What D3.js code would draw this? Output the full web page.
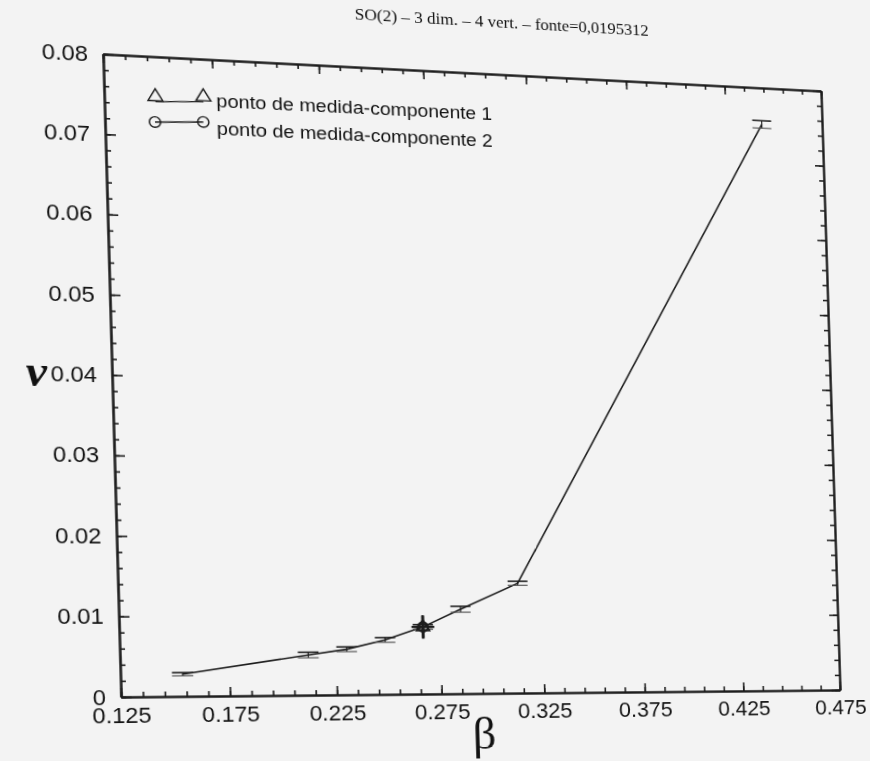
<!DOCTYPE html>
<meta charset="utf-8">
<style>
  body { margin: 0; background: #f3f3f3; overflow: hidden; }
  #my_chart { position: absolute; left: 0; top: 0; width: 870px; height: 761px; }
  #my_chart svg { position: absolute; left: 0; top: 0; overflow: visible; transform-origin: 0 0; }
</style>
<script src="https://d3js.org/d3.v7.min.js"></script>

<div id="my_chart"></div>

<script>
  // curve: beta, nu and the half height of each error bar
  var beta = [0.1534, 0.2120, 0.2302, 0.2486, 0.2669, 0.2853, 0.3135, 0.4436];
  var nu = [0.00276, 0.00507, 0.00577, 0.00693, 0.00857, 0.01082, 0.01416, 0.07513];
  var nuErr = [0.0002, 0.00035, 0.0003, 0.0003, 0.0003, 0.00038, 0.00026, 0.0005];

  // the measuring point, component 1 (triangle) and component 2 (circle)
  var pointBeta = [0.2669, 0.2669];
  var pointNu = [0.00857, 0.00857];
  var pointNuErr = [0.0015, 0.0014];
  var pointBetaErr = [0.0055, 0.0045];

  var xTickValues = [0.125, 0.175, 0.225, 0.275, 0.325, 0.375, 0.425, 0.475];
  var xTickLabels = ["0.125", "0.175", "0.225", "0.275", "0.325", "0.375", "0.425", "0.475"];
  var yTickValues = [0, 0.01, 0.02, 0.03, 0.04, 0.05, 0.06, 0.07, 0.08];
  var yTickLabels = ["0", "0.01", "0.02", "0.03", "0.04", "0.05", "0.06", "0.07", "0.08"];

  var legendLabels = ["ponto de medida-componente 1", "ponto de medida-componente 2"];
  var title = "SO(2) \u2013 3 dim. \u2013 4 vert. \u2013 fonte=0,0195312";

  // plot frame before the scan distortion
  var margin = {left: 103, top: 54},
    width = 718,
    height = 643;

  // where the frame corners ended up on the scanned page (TL, TR, BR, BL)
  var corners = [[103, 54], [821, 91], [840, 690], [121, 697]];

  // homography unit square -> quad
  function quadMatrix(c) {
    var x0 = c[0][0], y0 = c[0][1], x1 = c[1][0], y1 = c[1][1],
      x2 = c[2][0], y2 = c[2][1], x3 = c[3][0], y3 = c[3][1];
    var sx = x0 - x1 + x2 - x3, sy = y0 - y1 + y2 - y3;
    var dx1 = x1 - x2, dx2 = x3 - x2, dy1 = y1 - y2, dy2 = y3 - y2;
    var det = dx1 * dy2 - dx2 * dy1;
    var g = (sx * dy2 - dx2 * sy) / det;
    var h = (dx1 * sy - sx * dy1) / det;
    return [[x1 - x0 + g * x1, x3 - x0 + h * x3, x0],
      [y1 - y0 + g * y1, y3 - y0 + h * y3, y0],
      [g, h, 1]];
  }

  function mul(A, B) {
    var C = [[0, 0, 0], [0, 0, 0], [0, 0, 0]];
    for (var i = 0; i < 3; i++)
      for (var j = 0; j < 3; j++)
        for (var k = 0; k < 3; k++) C[i][j] += A[i][k] * B[k][j];
    return C;
  }

  function inverse(m) {
    var a = m[0][0], b = m[0][1], c = m[0][2],
      d = m[1][0], e = m[1][1], f = m[1][2],
      g = m[2][0], h = m[2][1], k = m[2][2];
    var A = e * k - f * h, B = -(d * k - f * g), C = d * h - e * g;
    var det = a * A + b * B + c * C;
    return [[A / det, -(b * k - c * h) / det, (b * f - c * e) / det],
      [B / det, (a * k - c * g) / det, -(a * f - c * d) / det],
      [C / det, -(a * h - b * g) / det, (a * e - b * d) / det]];
  }

  var norm = [[1 / width, 0, -margin.left / width], [0, 1 / height, -margin.top / height], [0, 0, 1]];
  var M = mul(quadMatrix(corners), norm);
  var Minv = inverse(M);

  // page position -> drawing position
  function unwarp(p) {
    var x = Minv[0][0] * p[0] + Minv[0][1] * p[1] + Minv[0][2],
      y = Minv[1][0] * p[0] + Minv[1][1] * p[1] + Minv[1][2],
      w = Minv[2][0] * p[0] + Minv[2][1] * p[1] + Minv[2][2];
    return [x / w, y / w];
  }

  var svg = d3.select("#my_chart")
    .append("svg")
    .attr("width", 870)
    .attr("height", 761)
    .style("transform", "matrix3d(" + [M[0][0], M[1][0], 0, M[2][0], M[0][1], M[1][1], 0, M[2][1],
      0, 0, 1, 0, M[0][2], M[1][2], 0, M[2][2]].join(",") + ")");

  var g = svg.append("g")
    .attr("transform", "translate(" + margin.left + "," + margin.top + ")");

  var x = d3.scaleLinear().domain([0.125, 0.475]).range([0, width]);
  var y = d3.scaleLinear().domain([0, 0.08]).range([height, 0]);

  var xMinor = d3.range(36).map(function (i) { return 0.125 + i * 0.01; });
  var yMinor = d3.range(41).map(function (i) { return i * 0.002; });

  var ink = "#1c1c1c";

  function style(sel) {
    sel.selectAll("line").attr("stroke", ink).attr("stroke-width", 1.6);
    sel.select(".domain").attr("stroke", ink).attr("stroke-width", 2);
    sel.selectAll("text").attr("fill", "#111")
      .style("font-family", "'Liberation Sans', Arial, sans-serif")
      .style("font-size", "22px");
  }

  // minor ticks, all four sides, pointing inwards
  g.append("g").attr("transform", "translate(0," + height + ")")
    .call(d3.axisBottom(x).tickValues(xMinor).tickSize(-5).tickSizeOuter(0).tickFormat(""))
    .call(style);
  g.append("g")
    .call(d3.axisTop(x).tickValues(xMinor).tickSize(-5).tickSizeOuter(0).tickFormat(""))
    .call(style);
  g.append("g")
    .call(d3.axisLeft(y).tickValues(yMinor).tickSize(-5).tickSizeOuter(0).tickFormat(""))
    .call(style);
  g.append("g").attr("transform", "translate(" + width + ",0)")
    .call(d3.axisRight(y).tickValues(yMinor).tickSize(-5).tickSizeOuter(0).tickFormat(""))
    .call(style);

  // major ticks with labels
  g.append("g").attr("transform", "translate(0," + height + ")")
    .call(d3.axisBottom(x).tickValues(xTickValues).tickSize(-9).tickSizeOuter(0).tickPadding(10)
      .tickFormat(function (d, i) { return xTickLabels[i]; }))
    .call(style);
  g.append("g")
    .call(d3.axisLeft(y).tickValues(yTickValues).tickSize(-10).tickSizeOuter(0).tickPadding(14)
      .tickFormat(function (d, i) { return yTickLabels[i]; }))
    .call(style);
  g.append("g")
    .call(d3.axisTop(x).tickValues(xTickValues).tickSize(-9).tickSizeOuter(0).tickFormat(""))
    .call(style);
  g.append("g").attr("transform", "translate(" + width + ",0)")
    .call(d3.axisRight(y).tickValues(yTickValues).tickSize(-9).tickSizeOuter(0).tickFormat(""))
    .call(style);

  var pts = beta.map(function (b, i) { return {b: b, v: nu[i], e: nuErr[i]}; });

  // curve
  g.append("path")
    .datum(pts)
    .attr("fill", "none")
    .attr("stroke", ink)
    .attr("stroke-width", 1.6)
    .attr("d", d3.line().x(function (d) { return x(d.b); }).y(function (d) { return y(d.v); }));

  // error bars
  var bars = g.selectAll(".err").data(pts).enter().append("g").attr("class", "err");
  bars.append("line")
    .attr("x1", function (d) { return x(d.b); }).attr("x2", function (d) { return x(d.b); })
    .attr("y1", function (d) { return y(d.v - d.e); }).attr("y2", function (d) { return y(d.v + d.e); })
    .attr("stroke", ink).attr("stroke-width", 1.2);
  bars.append("line")
    .attr("x1", function (d) { return x(d.b) - 10; }).attr("x2", function (d) { return x(d.b) + 10; })
    .attr("y1", function (d) { return y(d.v + d.e); }).attr("y2", function (d) { return y(d.v + d.e); })
    .attr("stroke", ink).attr("stroke-width", 1.6);
  bars.append("line")
    .attr("x1", function (d) { return x(d.b) - 10; }).attr("x2", function (d) { return x(d.b) + 10; })
    .attr("y1", function (d) { return y(d.v - d.e); }).attr("y2", function (d) { return y(d.v - d.e); })
    .attr("stroke", "#555").attr("stroke-width", 1.2);

  // measuring point: both components with beta and nu errors
  var meas = pointBeta.map(function (b, i) {
    return {b: b, v: pointNu[i], e: pointNuErr[i], eb: pointBetaErr[i], k: i};
  });
  var mg = g.selectAll(".meas").data(meas).enter().append("g").attr("class", "meas");
  mg.append("line")
    .attr("x1", function (d) { return x(d.b); }).attr("x2", function (d) { return x(d.b); })
    .attr("y1", function (d) { return y(d.v - d.e); }).attr("y2", function (d) { return y(d.v + d.e); })
    .attr("stroke", ink).attr("stroke-width", 2.6);
  mg.append("line")
    .attr("x1", function (d) { return x(d.b - d.eb); }).attr("x2", function (d) { return x(d.b + d.eb); })
    .attr("y1", function (d) { return y(d.v); }).attr("y2", function (d) { return y(d.v); })
    .attr("stroke", ink).attr("stroke-width", 2.2);
  mg.append("path")
    .attr("transform", function (d) { return "translate(" + x(d.b) + "," + y(d.v) + ")"; })
    .attr("d", function (d) {
      return d3.symbol().type(d.k === 0 ? d3.symbolTriangle : d3.symbolCircle).size(d.k === 0 ? 70 : 80)();
    })
    .attr("fill", "none").attr("stroke", ink).attr("stroke-width", 1.8);

  // texts are placed where they sit on the page, then pulled back into the drawing
  var font = "'Liberation Sans', Arial, sans-serif";
  var serif = "'Liberation Serif', 'Times New Roman', serif";

  var t = unwarp([504, 28]);
  svg.append("text").attr("x", t[0]).attr("y", t[1])
    .attr("text-anchor", "middle")
    .style("font-family", serif).style("font-size", "17px").attr("fill", "#111")
    .text(title);

  t = unwarp([37, 386]);
  svg.append("text").attr("x", t[0]).attr("y", t[1])
    .attr("text-anchor", "middle")
    .style("font-family", serif).style("font-size", "44px")
    .style("font-weight", "bold").style("font-style", "italic").attr("fill", "#111")
    .text("\u03bd");

  t = unwarp([485, 749]);
  svg.append("text").attr("x", t[0]).attr("y", t[1])
    .attr("text-anchor", "middle")
    .style("font-family", serif).style("font-size", "46px").attr("fill", "#111")
    .text("\u03b2");

  // legend
  var legendRows = [
    {a: [155.5, 101.7], b: [203.5, 101.7], t: [216.5, 106.7], sym: d3.symbolTriangle, dy: -5},
    {a: [155, 122], b: [203.3, 122], t: [217, 134.5], sym: d3.symbolCircle, dy: 0}
  ];
  legendRows.forEach(function (r, i) {
    var a = unwarp(r.a), b = unwarp(r.b), p = unwarp(r.t);
    svg.append("line")
      .attr("x1", a[0]).attr("y1", a[1]).attr("x2", b[0]).attr("y2", b[1])
      .attr("stroke", ink).attr("stroke-width", 1.4);
    [a, b].forEach(function (q) {
      svg.append("path")
        .attr("transform", "translate(" + q[0] + "," + (q[1] + r.dy) + ")")
        .attr("d", d3.symbol().type(r.sym).size(i === 0 ? 85 : 88)())
        .attr("fill", "none").attr("stroke", ink).attr("stroke-width", 1.4);
    });
    svg.append("text").attr("x", p[0]).attr("y", p[1])
      .style("font-family", font).style("font-size", "19.1px").attr("fill", "#111")
      .text(legendLabels[i]);
  });
</script>
